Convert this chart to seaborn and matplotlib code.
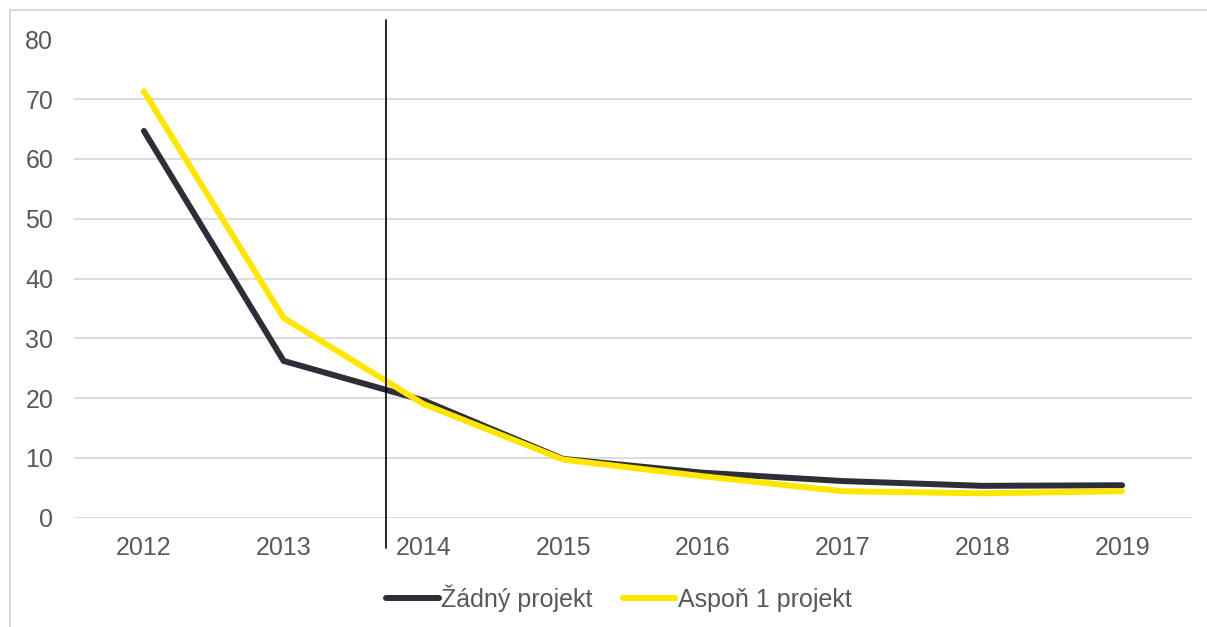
import matplotlib
matplotlib.use("Agg")
from matplotlib import pyplot as plt
from matplotlib.lines import Line2D
import seaborn as sns
import pandas as pd

# data
years = ["2012", "2013", "2014", "2015", "2016", "2017", "2018", "2019"]
zadny = [64.7, 26.2, 19.6, 9.8, 7.5, 6.1, 5.3, 5.4]
aspon = [71.3, 33.4, 19.0, 9.7, 6.9, 4.4, 4.05, 4.4]
series_names = ["Žádný projekt", "Aspoň 1 projekt"]
y_ticks = [0, 10, 20, 30, 40, 50, 60, 70, 80]
divider_x = 1.73  # vertical separator between 2013 and 2014

sns.set_theme(style="white")
plt.rcParams["font.family"] = ["Liberation Sans", "DejaVu Sans"]

TEXT = "#595959"
GRID = "#D9D9D9"
FS = 18
colors = {"Žádný projekt": "#2E2E38", "Aspoň 1 projekt": "#FFE600"}

df = pd.DataFrame({"rok": years * 2,
                   "hodnota": zadny + aspon,
                   "serie": [series_names[0]] * len(years) + [series_names[1]] * len(years)})

fig = plt.figure(figsize=(12.07, 6.27), dpi=100)
ax = fig.add_axes([74 / 1207, 1 - 517.5 / 627, 1118 / 1207, 478 / 627])

sns.lineplot(data=df, x="rok", y="hodnota", hue="serie", palette=colors,
             hue_order=series_names, linewidth=4.3, sort=False, ax=ax, legend=False)
for line in ax.get_lines():
    line.set_solid_capstyle("round")
    line.set_solid_joinstyle("round")

ax.set_xlim(-0.5, len(years) - 0.5)
ax.set_ylim(0, 80)
ax.set_yticks(y_ticks)
ax.set_yticklabels([str(t) for t in y_ticks])
ax.yaxis.grid(True, color=GRID, linewidth=1.3)
ax.set_axisbelow(True)
for s in ax.spines.values():
    s.set_visible(False)
ax.tick_params(axis="both", length=0, labelsize=FS, labelcolor=TEXT)
ax.tick_params(axis="y", pad=15)
ax.tick_params(axis="x", pad=13)
ax.set_xlabel("")
ax.set_ylabel("")

# separator line
ax.axvline(divider_x, ymin=-0.063, ymax=1.041, color="black", linewidth=1.2, clip_on=False)

# legend
handles = [Line2D([0], [0], color=colors[n], linewidth=4.3, solid_capstyle="round") for n in series_names]
fig.legend(handles, series_names, loc="center", bbox_to_anchor=(619 / 1207, 1 - 598 / 627),
           ncol=2, frameon=False, fontsize=FS, labelcolor=TEXT, handlelength=2.1,
           handletextpad=0.1, columnspacing=1.2)

# outer chart border (left and top visible)
fig.add_artist(Line2D([9.5 / 1207, 9.5 / 1207], [0, 1 - 10 / 627], color=GRID, linewidth=1.5))
fig.add_artist(Line2D([9.5 / 1207, 1], [1 - 10 / 627, 1 - 10 / 627], color=GRID, linewidth=1.5))

fig.savefig("out.png", dpi=100)
